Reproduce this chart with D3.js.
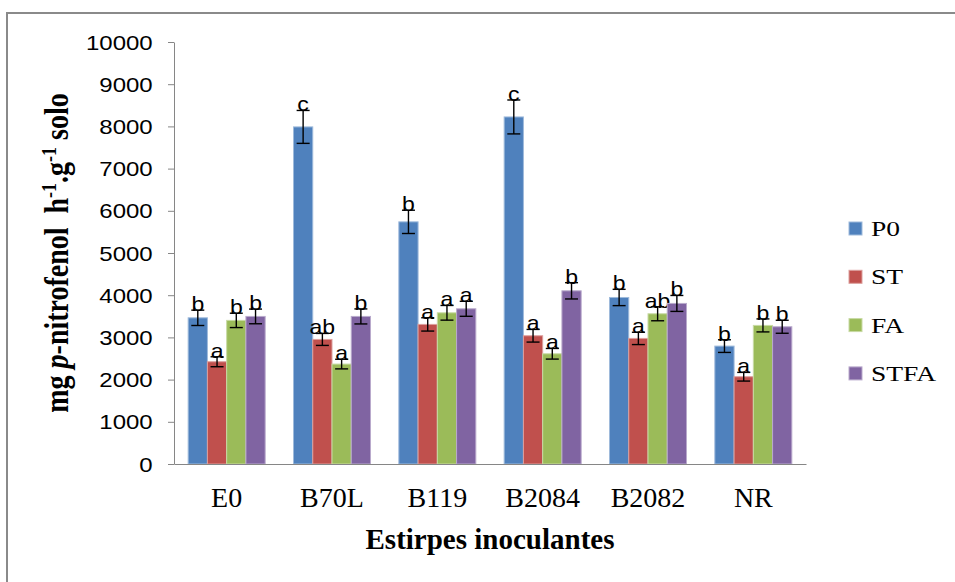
<!DOCTYPE html>
<html>
<head>
<meta charset="utf-8">
<script src="https://cdn.jsdelivr.net/npm/d3@7"></script>
<style>
  html, body { margin: 0; padding: 0; background: #fff; }
  svg { display: block; }
</style>
</head>
<body>
<svg id="chart" width="955" height="582"></svg>
<script>
// ---- data ----
const categories = ["E0", "B70L", "B119", "B2084", "B2082", "NR"];
const seriesNames = ["P0", "ST", "FA", "STFA"];
const seriesColors = ["#4F81BD", "#C0504D", "#9BBB59", "#8064A2"];
const valuesP0   = [3464, 7988, 5738, 8224, 3946, 2794];
const valuesST   = [2423, 2952, 3308, 3039, 2976, 2068];
const valuesFA   = [3403, 2368, 3583, 2612, 3560, 3284];
const valuesSTFA = [3497, 3497, 3678, 4104, 3805, 3252];
const errP0   = [182, 390, 276, 402, 193, 150];
const errST   = [118, 142, 158, 150, 146, 103];
const errFA   = [170, 114, 174, 126, 166, 154];
const errSTFA = [174, 178, 178, 193, 189, 154];
const lettersP0   = ["b", "c", "b", "c", "b", "b"];
const lettersST   = ["a", "ab", "a", "a", "a", "a"];
const lettersFA   = ["b", "a", "a", "a", "ab", "b"];
const lettersSTFA = ["b", "b", "a", "b", "b", "b"];
const yTicks = [0, 1000, 2000, 3000, 4000, 5000, 6000, 7000, 8000, 9000, 10000];

const seriesValues = [valuesP0, valuesST, valuesFA, valuesSTFA];
const seriesErrors = [errP0, errST, errFA, errSTFA];
const seriesLetters = [lettersP0, lettersST, lettersFA, lettersSTFA];

const rows = [];
categories.forEach((c, i) => {
  seriesNames.forEach((s, j) => {
    rows.push({cat: c, series: s, j: j, value: seriesValues[j][i],
               err: seriesErrors[j][i], letter: seriesLetters[j][i]});
  });
});

// ---- layout ----
const svg = d3.select("#chart");
const plotLeft = 174, plotRight = 806, plotTop = 42, plotBottom = 464;

// outer frame (top + left lines visible)
svg.append("line").attr("x1", 7).attr("x2", 955).attr("y1", 13).attr("y2", 13)
  .attr("stroke", "#8a8a8a").attr("stroke-width", 2);
svg.append("line").attr("x1", 7).attr("x2", 7).attr("y1", 12).attr("y2", 582)
  .attr("stroke", "#8a8a8a").attr("stroke-width", 2);

const x0 = d3.scaleBand().domain(categories).range([plotLeft, plotRight])
  .paddingInner(0.269).paddingOuter(0.1345);
const x1 = d3.scaleBand().domain(seriesNames).range([0, x0.bandwidth()]);
const y = d3.scaleLinear().domain([0, 10000]).range([plotBottom, plotTop]);
const color = d3.scaleOrdinal().domain(seriesNames).range(seriesColors);

// y axis
const yAxis = svg.append("g").attr("transform", `translate(${plotLeft},0)`)
  .call(d3.axisLeft(y).tickValues(yTicks).tickSize(6).tickSizeOuter(0).tickFormat(d3.format("d")));
yAxis.select(".domain").attr("stroke", "#868686");
yAxis.selectAll(".tick line").attr("stroke", "#868686");
yAxis.selectAll(".tick text")
  .attr("x", -21.3 / 1.2)
  .attr("dy", "0.35em")
  .attr("transform", "scale(1.2,1)")
  .attr("fill", "#000")
  .style("font-family", "Arial, 'Liberation Sans', sans-serif")
  .style("font-size", "20px");

// bars
const groups = svg.append("g").selectAll("g").data(rows).join("g")
  .attr("transform", d => `translate(${x0(d.cat) + x1(d.series)},0)`);

groups.append("rect")
  .attr("x", 0)
  .attr("y", d => y(d.value))
  .attr("width", x1.bandwidth())
  .attr("height", d => y(0) - y(d.value))
  .attr("fill", d => color(d.series))
  .attr("stroke", d => d3.interpolateRgb(color(d.series), "#ffffff")(0.45))
  .attr("stroke-width", 1);

// x axis
const xAxis = svg.append("g").attr("transform", `translate(0,${plotBottom})`)
  .call(d3.axisBottom(x0).tickSize(0).tickSizeOuter(0));
xAxis.select(".domain").attr("stroke", "#868686").attr("stroke-width", 1.2);
xAxis.selectAll(".tick text")
  .attr("y", 0).attr("dy", 0)
  .attr("transform", "translate(0,43)")
  .attr("fill", "#000")
  .style("font-family", "'Times New Roman', 'Liberation Serif', serif")
  .style("font-size", "28px");

// error bars
const bw = x1.bandwidth();
const capW = 13;
groups.append("line")
  .attr("x1", bw / 2).attr("x2", bw / 2)
  .attr("y1", d => y(d.value + d.err)).attr("y2", d => y(d.value - d.err))
  .attr("stroke", "#000").attr("stroke-width", 1.4);
groups.append("line")
  .attr("x1", bw / 2 - capW / 2).attr("x2", bw / 2 + capW / 2)
  .attr("y1", d => y(d.value + d.err)).attr("y2", d => y(d.value + d.err))
  .attr("stroke", "#000").attr("stroke-width", 1.4);
groups.append("line")
  .attr("x1", bw / 2 - capW / 2).attr("x2", bw / 2 + capW / 2)
  .attr("y1", d => y(d.value - d.err)).attr("y2", d => y(d.value - d.err))
  .attr("stroke", "#000").attr("stroke-width", 1.4);

// significance letters
groups.append("g")
  .attr("transform", d => `translate(${bw / 2},${y(d.value + d.err) + 1}) scale(1.15,1)`)
  .append("text")
  .attr("text-anchor", "middle")
  .attr("fill", "#000")
  .style("font-family", "Arial, 'Liberation Sans', sans-serif")
  .style("font-size", "20px")
  .text(d => d.letter);

// x-axis title
svg.append("text")
  .attr("x", (plotLeft + plotRight) / 2).attr("y", 549)
  .attr("text-anchor", "middle")
  .style("font-family", "'Times New Roman', 'Liberation Serif', serif")
  .style("font-size", "29px").style("font-weight", "bold")
  .text("Estirpes inoculantes");

// y-axis title
const yt = svg.append("g").attr("transform", "translate(68,253) scale(1.2,1) rotate(-90)")
  .append("text")
  .attr("text-anchor", "middle")
  .style("font-family", "'Times New Roman', 'Liberation Serif', serif")
  .style("font-size", "28px").style("font-weight", "bold");
yt.append("tspan").text("mg ");
yt.append("tspan").style("font-style", "italic").text("p");
yt.append("tspan").text("-nitrofenol\u00a0 h");
yt.append("tspan").attr("baseline-shift", "super").style("font-size", "18px").text("-1");
yt.append("tspan").text(".g");
yt.append("tspan").attr("baseline-shift", "super").style("font-size", "18px").text("-1");
yt.append("tspan").text(" solo");

// legend
const legend = svg.append("g").selectAll("g").data(seriesNames).join("g")
  .attr("transform", (d, i) => `translate(849,${222 + i * 48.3})`);
legend.append("rect").attr("width", 13).attr("height", 13)
  .attr("fill", d => color(d))
  .attr("stroke", d => d3.interpolateRgb(color(d), "#ffffff")(0.45)).attr("stroke-width", 1);
legend.append("g").attr("transform", "translate(22,14) scale(1.25,1)")
  .append("text")
  .style("font-family", "'Times New Roman', 'Liberation Serif', serif")
  .style("font-size", "22px")
  .attr("fill", "#000")
  .text(d => d);
</script>
</body>
</html>
